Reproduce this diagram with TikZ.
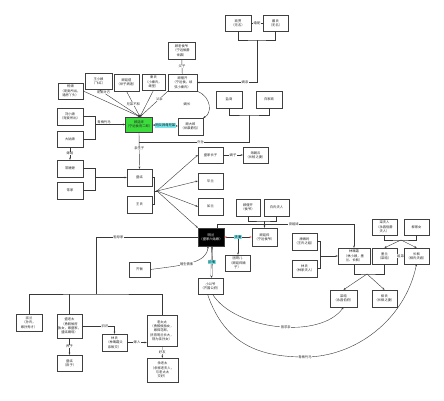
\documentclass[tikz,border=0pt]{standalone}
\usepackage{fontspec}
\newfontfamily\cjk{Noto Sans CJK SC}
\usetikzlibrary{arrows.meta}
\definecolor{brgreen}{RGB}{60,220,60}
\definecolor{lcyan}{RGB}{120,230,235}
\newcommand{\nb}[6][]{\node[box,minimum width=#4pt,minimum height=#5pt,#1] (#2) at #3 {#6};}
\begin{document}
\begin{tikzpicture}[x=1pt,y=-1pt,
  box/.style={draw=black!75, line width=0.45pt, fill=white, inner sep=0.4pt, align=center,
    font=\cjk\fontsize{3.3}{4.3}\selectfont, text=black!85},
  lab/.style={fill=white, inner sep=0.3pt, font=\cjk\fontsize{3.3}{4}\selectfont, text=black!85},
  cy/.style={fill=lcyan, inner sep=0.6pt, font=\cjk\fontsize{3.3}{4}\selectfont},
  ln/.style={draw=black!78, line width=0.4pt},
  tip/.style={-{Stealth[length=2.2pt,width=1.8pt]}},
  both/.style={{Stealth[length=2.2pt,width=1.8pt]}-{Stealth[length=2.2pt,width=1.8pt]}},
  redboth/.style={{Stealth[open,red!70,length=2.4pt,width=2pt]}-{Stealth[open,red!70,length=2.4pt,width=2pt]}}]
\useasboundingbox[fill=white] (0,0) rectangle (444,400);

% ---------- nodes ----------
\nb{shop}{(238,23)}{26}{16}{商贾\\（无名）}
\nb{dai}{(275.5,23)}{25}{16}{戴氏\\（无名）}
\nb{topA}{(181.5,50.5)}{27}{17}{顾老侯爷\\（宁远侯爵\\世袭）}
\nb{topB}{(182.5,82.5)}{29}{17}{顾偃开\\（宁远侯，续\\弦小秦氏）}
\nb{nB2}{(153.5,82)}{23}{16}{秦氏\\（小秦氏，\\继室）}
\nb{nB3}{(126.5,82.5)}{25}{17}{顾廷煜\\（世子病逝）}
\nb{wang}{(98.5,81)}{27}{16}{王小娘\\（飞红）}
\nb{yang}{(70.5,91)}{25}{16}{杨娘\\（宠妾所出，\\通房丫头）}
\nb{liu}{(70,116.5)}{26}{17}{刘小娘\\（宠妾所出）}
\nb{da}{(70,139)}{26}{16}{大姑娘}
\nb[fill=brgreen]{green}{(139,124.5)}{26}{15}{顾廷烨\\（宁远侯府二郎）}
\nb{rightB}{(190.5,126.5)}{25}{17}{顾大郎\\（世袭爵位）}
\nb{p1}{(229,99.5)}{26}{17}{盐商}
\nb{p2}{(269,99.5)}{26}{17}{白家商}
\nb{l1}{(70,168.5)}{26}{17}{常嬷嬷}
\nb{l2}{(70,190.5)}{26}{17}{常家}
\nb{m1}{(139.5,177.5)}{25}{17}{盛纮}
\nb{m2}{(139.5,204.5)}{25}{17}{王氏}
\nb{r1}{(210.5,155)}{25}{16}{盛家长子}
\nb{r1b}{(255.5,155)}{25}{16}{海朝云\\（长柏之妻）}
\nb{r2}{(210.5,181)}{25}{16}{华兰}
\nb{r3}{(210.5,206.5)}{25}{17}{如兰}
\nb[fill=black,text=white]{black}{(211,237)}{26}{18}{明兰\\（盛家六姑娘）}
\nb{q1}{(248,207.5)}{24}{17}{顾偃开\\（侯爷）}
\nb{q2}{(276.5,207.5)}{25}{17}{白氏夫人}
\nb{wz}{(264.5,237)}{25}{18}{顾廷烨\\（宁远侯爷）}
\nb{wc}{(237.5,263)}{25}{16}{团哥儿\\（顾廷烨嫡\\子）}
\nb{sm}{(139.5,269.5)}{21}{15}{齐衡}
\nb{bottom}{(210.5,286)}{25}{16}{小公爷\\（齐国公府）}
\nb{e1}{(304.5,241.5)}{25}{17}{康姨妈\\（王氏之姐）}
\nb{e2}{(304.5,268.5)}{25}{17}{林氏\\（林家夫人）}
\nb{lin}{(354,256)}{32}{16}{林噙霜\\（林小娘，墨\\兰、长枫）}
\nb{f1}{(384.5,256)}{25}{16}{墨兰\\（梁晗）}
\nb{f2}{(416.5,256)}{25}{16}{长枫\\（柳氏夫君）}
\nb{g1}{(384.5,227)}{25}{16}{梁夫人\\（永昌伯爵\\夫人）}
\nb{g2}{(416.5,227)}{25}{16}{柳家女}
\nb{h1}{(343.5,298.5)}{27}{17}{梁晗\\（永昌伯府）}
\nb{h2}{(384.5,298.5)}{25}{17}{柳氏\\（长枫之妻）}
\nb{b1}{(29,322.5)}{26}{17}{淑兰\\（孙氏，\\嫁孙秀才）}
\nb{b2}{(69.5,326)}{25}{24}{盛老太\\（勇毅侯府\\独女，嫁盛家，\\盛纮嫡母）}
\nb{b3}{(162,330.5)}{30}{31}{老太太\\（勇毅侯独女，\\嫁探花郎，\\抚育明兰长大，\\视为亲孙女）}
\nb{b4}{(69.5,363)}{25}{16}{盛纮\\（庶子）}
\nb{b5}{(114.5,342.5)}{25}{17}{林氏\\（林噙霜父\\亲故交）}
\nb{b6}{(162.5,370)}{31}{24}{余老太\\（余家老夫人，\\与老太太\\交好）}

% ---------- top ----------
\draw[ln] (shop) -- node[lab]{婚配} (dai);
\coordinate (j1) at (257,40);
\draw[ln] (shop.south) |- (j1) -| (dai.south);
\draw[ln,tip] (j1) |- node[lab,pos=0.6]{嫡亲} (topB.east);
\draw[ln] (topA) -- node[lab]{父子} (topB);

\coordinate (gt) at ([xshift=1]green.north);
\draw[ln,tip] (wang.south) -- node[lab,pos=0.12]{宠爱对方} (gt);
\draw[ln,tip] (yang.east) -- (gt);
\draw[ln,tip] (nB3.south) -- node[lab,pos=0.5]{兄弟不和} (gt);
\draw[ln,tip] (nB2.south) -- (gt);
\draw[ln,tip] (topB.south west) -- node[lab,pos=0.3]{父亲} (gt);

\coordinate (k1) at (95,124.5);
\draw[ln] (liu.east) -- ++(12,0) |- (da.east);
\draw[ln,tip] (k1) -- node[lab,above=0.3pt,pos=0.3]{青梅竹马} (green.west);

\draw[ln,both] (green) -- node[cy]{同父异母兄弟} (rightB);
\draw[ln,tip] (topB.south east) .. controls (212,97) and (212,114) .. (rightB.north east);
\node[lab] (lbA) at (187,104) {嫡长};

\draw[ln,tip] (green.south) -- node[lab,pos=0.45]{亲生子} (m1.north);
\coordinate (jp) at (249,115);
\coordinate (k2) at (139.3,142);
\draw[ln] (p1.south) |- (jp) -| (p2.south);
\draw[ln] (jp) |- node[lab,pos=0.72]{外孙} (k2);

% ---------- left / middle ----------
\draw[ln,tip] (da.south) -- node[lab]{嫁给} (l1.north);
\draw[ln] (l1.east) -- ++(12,0) |- (l2.east);
\coordinate (k3) at (95,177.5);
\draw[ln,tip] (k3) -- (m1.west);
\draw[ln] (m1.east) -- ++(1.5,0) |- (m2.east);
\coordinate (Fm) at (153.5,191);
\coordinate (F) at (157,191);
\draw[ln] (Fm) -- (F);
\fill[black!80] (F) circle (0.9);
\draw[ln,tip] (F) -- (r1.west);
\draw[ln,tip] (F) -- (r2.west);
\draw[ln,tip] (F) -- (r3.west);
\draw[ln,tip] (F) -- (black.north west);
\draw[ln,tip] (r1) -- node[lab]{嫡子} (r1b);

\coordinate (jq) at (264.5,221);
\draw[ln] (q1.south) |- (jq) -| (q2.south);
\draw[ln,tip] (jq) -- (wz.north);
\draw[ln,tip] ([xshift=6]black.north) -- ++(0,-4) -| node[lab,pos=0.28]{庶姐妹} (lin.north);

\draw[ln,redboth] (black) -- node[cy] (cyw) {夫妻} (wz);
\draw[ln,tip] (cyw.south) -- (cyw.south |- wc.north);

\draw[ln,tip] (sm.east) .. controls (185,265) and (207,263) .. ([xshift=-3]black.south)
  node[lab,pos=0.42]{暗生情愫};
\draw[ln,both,double=white,double distance=0.8pt] ([xshift=1]black.south) -- node[cy]{旧情} ([xshift=1]bottom.north);

\coordinate (cv) at (305,357);
\draw[ln,tip] ([xshift=2]bottom.south) .. controls (235,330) and (320,340) .. (h1.south)
  node[lab,pos=0.55]{曾求亲};
\draw[ln,tip] ([xshift=-3]bottom.south) .. controls (225,345) and (260,357) .. (cv)
  node[lab]{青梅竹马} .. controls (355,357) and (405,320) .. (f2.south);

% ---------- right ----------
\draw[ln] (e1.east) -- ++(3,0) |- (e2.east);
\coordinate (ke) at (320,256);
\draw[ln,tip] (ke) -- (lin.west);
\coordinate (jg) at (401,240);
\draw[ln] (g1.south) |- (jg) -| (g2.south);
\draw[ln,tip] (jg) -- (f1.north);
\draw[ln,tip] (jg) -- (f2.north);
\draw[ln] (f1) -- node[lab]{姐弟} (f2);
\coordinate (jl) at (367,274);
\draw[ln] (lin.south) |- (jl) -| (f1.south);
\draw[ln,tip] (jl) -- (h1.north);
\draw[ln,tip] (jl) -- (h2.north);

% ---------- bottom left ----------
\coordinate (jb) at (96,294);
\draw[ln] (black.west) -| node[lab,pos=0.39]{祖母家} (jb);
\draw[ln] (b1.north) |- (jb) -- (jb -| b3.north) -- (b3.north);
\draw[ln] (b2.north) -- (b2.north |- jb);
\draw[ln,tip] (b2) -- node[lab]{养子} (b4);
\draw[ln,tip] (b2.east) -| node[lab,pos=0.35]{旧识} (b5.north);
\draw[ln,tip] (b5.east) -- node[lab]{嫁入} (b5.east -| b3.west);
\draw[ln,tip] (b3) -- node[lab]{好友} (b6);
\end{tikzpicture}
\end{document}
